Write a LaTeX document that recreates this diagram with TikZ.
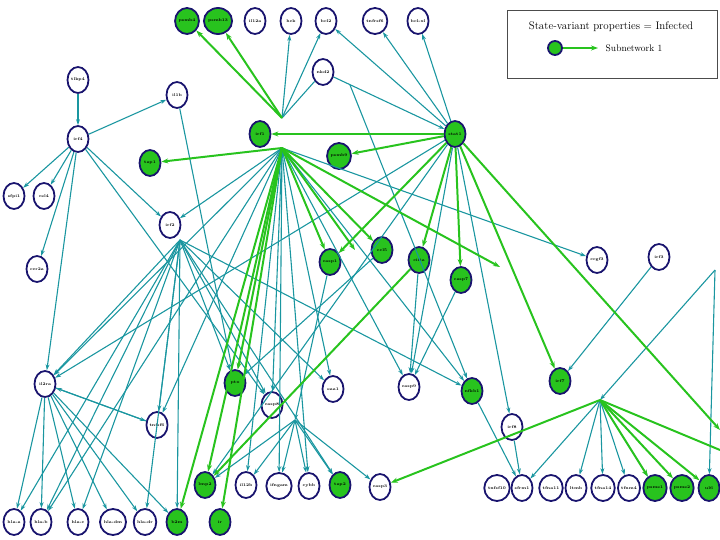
\documentclass[tikz,border=0pt]{standalone}
\usetikzlibrary{shapes.geometric,arrows.meta}
\definecolor{tl}{RGB}{26,150,160}
\definecolor{gr}{RGB}{40,195,30}
\definecolor{nv}{RGB}{25,20,110}
\begin{document}
\begin{tikzpicture}[x=1bp,y=-1bp,
 nd/.style={ellipse,draw=nv,line width=1.8pt,fill=white,minimum width=21bp,minimum height=26bp,inner sep=0pt,font=\fontsize{4}{4}\selectfont\bfseries},
 gn/.style={nd,fill=gr},
 te/.style={draw=tl,line width=1.1pt,-{Stealth[length=6pt,width=4pt]}},
 ge/.style={draw=gr,line width=2pt,-{Stealth[length=7pt,width=5pt]}}]
\useasboundingbox (0,0) rectangle (720,540);
% legend
\node[draw=black!70,line width=0.6pt,minimum width=210bp,minimum height=68bp,inner sep=0pt] (leg) at (612,44) {};
\node[font=\fontsize{11}{11}\selectfont,anchor=north] (legt) at (611,18) {State-variant properties = Infected};
\node[gn,minimum width=14bp,minimum height=14bp] (lega) at (555,48) {};
\node[font=\fontsize{9.5}{9.5}\selectfont] (legl) at (634,48) {Subnetwork 1};
\coordinate (legb) at (598,48);
\draw[ge] (lega) -- (legb);
% nodes
\node[gn] (psmb4) at (187,21) {psmb4};
\node[gn] (psmb13) at (218,21) {psmb13};
\node[nd] (il12a) at (255,21) {il12a};
\node[nd] (hck) at (291,21) {hck};
\node[nd] (bcl2) at (326,21) {bcl2};
\node[nd] (tnfrsf) at (375,21) {tnfrsf6};
\node[nd] (bclxl) at (418,21) {bcl-xl};
\node[nd] (nkd2) at (323,72) {nkd2};
\node[nd] (tlr) at (78,80) {tlkp4};
\node[nd] (il1b) at (177,95) {il1b};
\node[nd] (irf4) at (78,139) {irf4};
\node[gn] (irf1) at (260,134) {irf1};
\node[gn] (stat1) at (455,134) {stat1};
\node[gn] (psmb9) at (339,156) {psmb9};
\node[gn] (tap1) at (150,163) {tap1};
\node[nd] (sfpi1) at (14,196) {sfpi1};
\node[nd] (rel) at (44,196) {rel4};
\node[nd] (irf2) at (170,225) {irf2};
\node[nd] (ccr2a) at (37,269) {ccr2a};
\node[gn] (casp1) at (330,262) {casp1};
\node[gn] (ccl5) at (382,250) {ccl5};
\node[gn] (ciita) at (419,260) {ciita};
\node[gn] (casp7) at (461,280) {casp7};
\node[nd] (ccgf) at (597,260) {ccgf3};
\node[nd] (irf3) at (659,257) {irf3};
\node[nd] (il2ra) at (45,384) {il2ra};
\node[gn] (ptx) at (235,383) {ptx};
\node[nd] (casp8) at (272,405) {casp8};
\node[nd] (eaa1) at (333,389) {eaa1};
\node[nd] (casp9) at (409,387) {casp9};
\node[gn] (nfkb1) at (472,391) {nfkb1};
\node[gn] (irf7) at (560,381) {irf7};
\node[nd] (tnfsf6) at (157,425) {tnfsf6};
\node[nd] (irf8) at (512,427) {irf8};
\node[gn] (lmp2) at (205,485) {lmp2};
\node[nd] (il12b) at (246,485) {il12b};
\node[nd] (ifng) at (279,486) {ifngam};
\node[nd] (cybb) at (309,486) {cybb};
\node[gn] (tap2) at (340,485) {tap2};
\node[nd] (casp3) at (380,487) {casp3};
\node[nd] (tnfsf10) at (497,488) {tnfsf10};
\node[nd] (sfrm1) at (522,488) {sfrm1};
\node[nd] (tlr11) at (551,488) {tfna11};
\node[nd] (ltmb) at (576,488) {ltmb};
\node[nd] (mx1) at (603,488) {tfna14};
\node[nd] (ifm4) at (629,488) {tfnm4};
\node[gn] (psme1) at (655,488) {psme1};
\node[gn] (psme2) at (682,488) {psme2};
\node[gn] (ul6) at (709,488) {ul6};
\node[nd] (hlaa) at (14,522) {hla-a};
\node[nd] (hlab) at (41,522) {hla-b};
\node[nd] (hlac) at (78,522) {hla-c};
\node[nd] (hladm) at (113,522) {hla-dm};
\node[nd] (hladr) at (145,522) {hla-dr};
\node[gn] (b2m) at (177,522) {b2m};
\node[gn] (ir) at (220,522) {ir};
\coordinate (hubA) at (282,118);
\coordinate (hubB) at (282,148);
\coordinate (hubC) at (180,240);
\coordinate (hubD) at (600,400);
\coordinate (hubE) at (295,420);
\coordinate (hubF) at (715,270);
\coordinate (hubG) at (350,85);
\coordinate (offR) at (720,450);
\coordinate (offR2) at (720,430);
\coordinate (fa) at (500,267);
\coordinate (fb) at (355,250);
% teal edges
\draw[te] (hubA) -- (hck);
\draw[te] (hubA) -- (bcl2);
\draw[te,-] (hubA) -- (nkd2);
\draw[te] (nkd2) -- (stat1);
\draw[te] (hubG) -- (nfkb1);
\draw[te] (stat1) -- (bcl2);
\draw[te] (stat1) -- (tnfrsf);
\draw[te] (stat1) -- (bclxl);
\draw[te] (tlr) -- (irf4);
\draw[te] (irf4) -- (sfpi1);
\draw[te] (irf4) -- (rel);
\draw[te] (irf4) -- (il1b);
\draw[te] (irf4) -- (ccr2a);
\draw[te] (irf4) -- (irf2);
\draw[te] (irf4) -- (il2ra);
\draw[te] (irf4) -- (casp8);
\draw[te] (il1b) -- (ptx);
\draw[te] (hubB) -- (il2ra);
\draw[te] (hubB) -- (irf2);
\draw[te] (hubB) -- (tnfsf6);
\draw[te] (hubB) -- (casp8);
\draw[te] (hubB) -- (eaa1);
\draw[te] (hubB) -- (ccgf);
\draw[te] (hubB) -- (il12b);
\draw[te] (hubB) -- (ifng);
\draw[te] (hubB) -- (nfkb1);
\draw[te] (hubB) -- (cybb);
\draw[te] (hubB) -- (hlab);
\draw[te] (hubB) -- (casp9);
\draw[te] (stat1) -- (il2ra);
\draw[te] (stat1) -- (irf8);
\draw[te] (stat1) -- (lmp2);
\draw[te] (stat1) -- (casp9);
\draw[te] (hubC) -- (il2ra);
\draw[te] (hubC) -- (hlaa);
\draw[te] (hubC) -- (hlab);
\draw[te] (hubC) -- (hlac);
\draw[te] (hubC) -- (hladr);
\draw[te] (hubC) -- (b2m);
\draw[te] (hubC) -- (tnfsf6);
\draw[te] (hubC) -- (casp8);
\draw[te] (hubC) -- (eaa1);
\draw[te] (hubC) -- (nfkb1);
\draw[te] (hubC) -- (ptx);
\draw[te] (hubC) -- (tap2);
\draw[te] (il2ra) -- (hlaa);
\draw[te] (il2ra) -- (hlab);
\draw[te] (il2ra) -- (hlac);
\draw[te] (il2ra) -- (hladm);
\draw[te] (il2ra) -- (hladr);
\draw[te] (il2ra) -- (b2m);
\draw[te] (il2ra) -- (tnfsf6);
\draw[te] (tnfsf6) -- (il2ra);
\draw[te] (ccl5) -- (ptx);
\draw[te] (ciita) -- (casp9);
\draw[te] (casp7) -- (casp9);
\draw[te] (nfkb1) -- (sfrm1);
\draw[te] (irf8) -- (sfrm1);
\draw[te] (irf3) -- (irf7);
\draw[te] (hubD) -- (sfrm1);
\draw[te] (hubD) -- (ltmb);
\draw[te] (hubD) -- (mx1);
\draw[te] (hubD) -- (ifm4);
\draw[te] (hubD) -- (psme1);
\draw[te] (hubF) -- (hubD);
\draw[te] (hubF) -- (ul6);
\draw[te] (hubE) -- (lmp2);
\draw[te] (hubE) -- (il12b);
\draw[te] (hubE) -- (ifng);
\draw[te] (hubE) -- (cybb);
\draw[te] (hubE) -- (tap2);
\draw[te] (hubE) -- (casp3);
\draw[te] (casp1) -- (hubE);
% green edges
\draw[ge] (stat1) -- (irf1);
\draw[ge] (stat1) -- (psmb9);
\draw[ge] (hubA) -- (psmb4);
\draw[ge] (hubA) -- (psmb13);
\draw[ge] (hubB) -- (tap1);
\draw[ge] (hubB) -- (casp1);
\draw[ge] (hubB) -- (fb);
\draw[ge] (hubB) -- (ccl5);
\draw[ge] (hubB) -- (fa);
\draw[ge] (hubB) -- (ptx);
\draw[ge] (hubB) -- (lmp2);
\draw[ge] (hubB) -- (ir);
\draw[ge] (hubB) -- (b2m);
\draw[ge] (stat1) -- (casp1);
\draw[ge] (stat1) -- (ciita);
\draw[ge] (stat1) -- (casp7);
\draw[ge] (stat1) -- (irf7);
\draw[ge] (stat1) -- (offR2);
\draw[ge] (ciita) -- (lmp2);
\draw[ge] (hubD) -- (casp3);
\draw[ge] (hubD) -- (psme1);
\draw[ge] (hubD) -- (psme2);
\draw[ge] (hubD) -- (ul6);
\draw[ge,-] (hubD) -- (offR);
\end{tikzpicture}
\end{document}
